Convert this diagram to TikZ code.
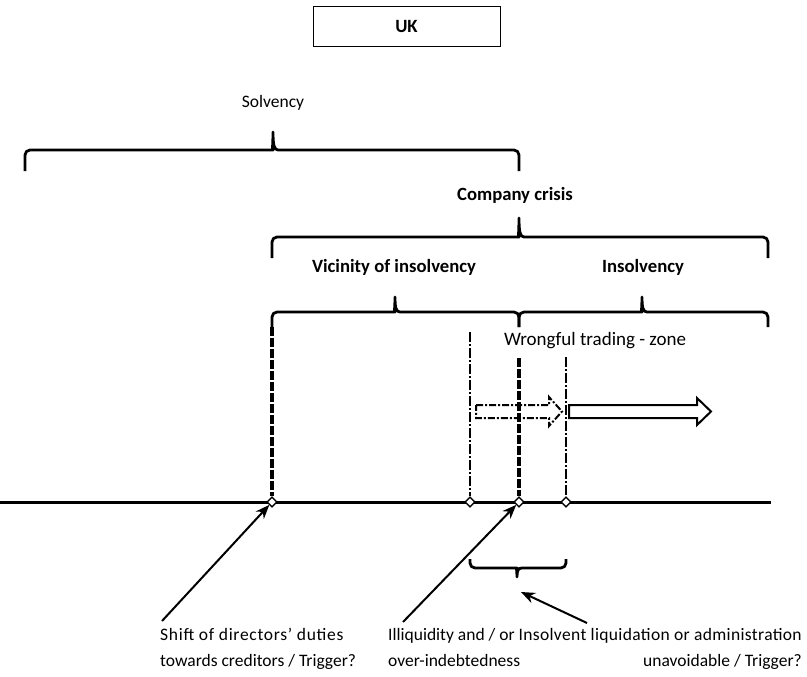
\documentclass[tikz,border=0pt]{standalone}
\usepackage{fontspec}
\setmainfont{Carlito}
\usetikzlibrary{shapes.geometric,arrows.meta}
\tikzset{
  bracestyle/.style={line width=2.8pt,line join=round},
  axisline/.style={line width=3pt},
  thickdash/.style={line width=4pt,dash pattern=on 9pt off 2pt},
  thindashdot/.style={line width=1.6pt,dash pattern=on 10pt off 2pt on 2pt off 2pt},
  pointer/.style={line width=2pt,-{Stealth[length=14pt,width=11pt]}},
  mark point/.style={diamond,draw,fill=white,line width=1.3pt,minimum size=10pt,inner sep=0pt},
  lab/.style={font=\fontsize{17.5}{20}\selectfont,inner sep=0pt},
  blab/.style={font=\fontsize{18.7}{22}\selectfont\bfseries,inner sep=0pt},
}
\newcommand\mybrace[6]{%
  \draw[bracestyle] ({#1},{#4+#5}) [rounded corners=5pt] -- ({#1},{#4}) -- ({#3-5},{#4}) [sharp corners]
    .. controls ({#3-1},{#4}) and ({#3},{#4-0.3*#6}) .. ({#3},{#4-#6})
    .. controls ({#3},{#4-0.3*#6}) and ({#3+1},{#4}) .. ({#3+5},{#4})
    [rounded corners=5pt] -- ({#2},{#4}) -- ({#2},{#4+#5});}
\begin{document}
\begin{tikzpicture}[x=1pt,y=-1pt]
\useasboundingbox (0,0) rectangle (807,677);
% title
\node[draw,line width=1pt,minimum width=187pt,minimum height=40pt,inner sep=0pt,font=\fontsize{18.7}{22}\selectfont\bfseries] (uk) at (406.5,27) {UK};
% labels
\node[lab] (solv) at (273,103) {Solvency};
\node[blab] (crisis) at (515,195) {Company crisis};
\node[blab] (vic) at (394,267) {Vicinity of insolvency};
\node[blab] (insol) at (643,267) {Insolvency};
\node[lab,font=\fontsize{19}{22}\selectfont] (wt) at (595,341) {Wrongful trading - zone};
% braces
\mybrace{25}{519}{273}{150}{21}{18}
\mybrace{272}{768}{519}{237}{21}{19}
\mybrace{272}{519}{395}{312}{15}{15}
\mybrace{519}{768}{642}{312}{15}{15}
\mybrace{470}{566}{517}{568}{-9}{-9}
% axis
\coordinate (ax0) at (0,502);
\coordinate (ax1) at (771,502);
\draw[axisline] (ax0) -- (ax1);
% vertical lines
\coordinate (v1) at (272,327);
\coordinate (v2) at (470,332);
\coordinate (v3) at (519,358);
\coordinate (v4) at (566,357);
\node[mark point] (d1) at (272,502) {};
\node[mark point] (d2) at (470,502) {};
\node[mark point] (d3) at (519,502) {};
\node[mark point] (d4) at (566,502) {};
\draw[thickdash] (v1) -- (d1.north);
\draw[thindashdot] (v2) -- (d2.north);
\draw[thickdash] (v3) -- (d3.north);
\draw[thindashdot] (v4) -- (d4.north);
\node[mark point] at (d1) {};
\node[mark point] at (d2) {};
\node[mark point] at (d3) {};
\node[mark point] at (d4) {};
% block arrows
\draw[line width=2pt,dash pattern=on 7pt off 2pt on 2pt off 2pt,line join=miter]
  (476,405) -- (549,405) -- (549,397) -- (562,411.5) -- (549,426) -- (549,418) -- (476,418) -- cycle;
\draw[line width=2pt,line join=miter]
  (569,405) -- (697,405) -- (697,398) -- (711,411.5) -- (697,425) -- (697,418) -- (569,418) -- cycle;
% bottom texts
\node[lab,anchor=west,align=left] (t1) at (160,649) {\strut{\addfontfeature{LetterSpace=4}Shift of directors' duties}\\[6pt]\strut towards creditors / Trigger?};
\node[lab,anchor=west,align=left] (t2) at (388,649) {\strut Illiquidity and / or\\[6pt]\strut over-indebtedness};
\node[lab,anchor=east,align=right] (t3) at (802,649) {\strut{\addfontfeature{LetterSpace=2}Insolvent liquidation or administration}\\[6pt]\strut unavoidable / Trigger?};
\coordinate (a1) at (162,621);
\coordinate (a2) at (403,622);
\coordinate (a3) at (587,623);
\coordinate (bt) at (521,592);
\draw[pointer] (a1) -- (d1);
\draw[pointer] (a2) -- (d3);
\draw[pointer] (a3) -- (bt);
\end{tikzpicture}
\end{document}
